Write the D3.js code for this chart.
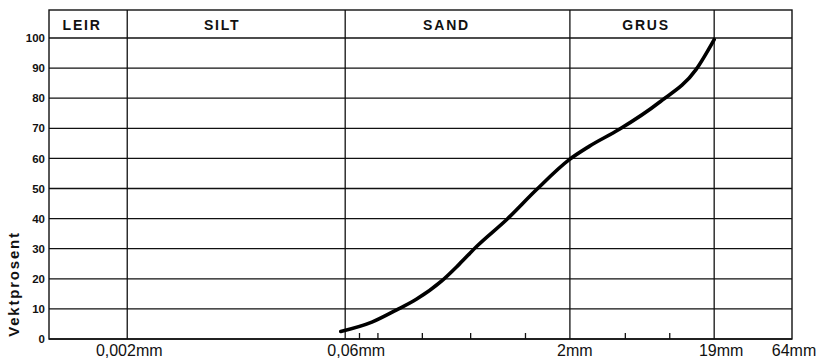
<!DOCTYPE html>
<html>
<head>
<meta charset="utf-8">
<script src="https://cdn.jsdelivr.net/npm/d3@7"></script>
<style>
  body { margin: 0; background: #fff; }
  svg { display: block; font-family: "Liberation Sans", Arial, sans-serif; }
</style>
</head>
<body>
<div id="chart"></div>
<script>
// grain size classes (header row) and their limits in mm
const bandNames = ["LEIR", "SILT", "SAND", "GRUS"];
const bandLimits = [0.00059, 0.002, 0.06, 2, 19];

// main size lines + labels along the bottom
const sizeLines = [0.002, 0.06, 2, 19];
const sizeTicks = [0.002, 0.06, 2, 19, 64];
const sizeTickLabels = ["0,002mm", "0,06mm", "2mm", "19mm", "64mm"];

// small sieve marks on the bottom axis
const sieveTicks = [0.075, 0.1, 0.2, 0.425, 1, 4.75, 9.5];

// percent grid
const pctTicks = [0, 10, 20, 30, 40, 50, 60, 70, 80, 90, 100];

// grading curve
const grainSize = [0.056, 0.091, 0.133, 0.182, 0.272, 0.355, 0.47, 0.75, 1.18, 1.98, 2.7, 4.3, 8.0, 14.3, 19];
const passing = [2.5, 5.6, 9.6, 13.2, 19.4, 24.8, 30.9, 39.8, 49.5, 59.6, 64, 69.6, 78.5, 89.5, 99.5];

const width = 818, height = 360;
const plotLeft = 49, plotRight = 792, plotTop = 10;

const svg = d3.select("#chart").append("svg")
    .attr("width", width)
    .attr("height", height);

const x = d3.scaleLog().domain([0.00059, 64]).range([plotLeft, plotRight]);
const y = d3.scaleLinear().domain([0, 100]).range([339, 38]);

const ink = "#111";

// horizontal grid lines
svg.append("g")
    .selectAll("line")
    .data(pctTicks)
    .join("line")
    .attr("x1", plotLeft).attr("x2", plotRight)
    .attr("y1", d => y(d)).attr("y2", d => y(d))
    .attr("stroke", ink)
    .attr("stroke-width", 1.3);

// frame
svg.append("rect")
    .attr("x", plotLeft).attr("y", plotTop)
    .attr("width", plotRight - plotLeft).attr("height", y(0) - plotTop)
    .attr("fill", "none")
    .attr("stroke", ink)
    .attr("stroke-width", 1.4);

// vertical class limits
svg.append("g")
    .selectAll("line")
    .data(sizeLines)
    .join("line")
    .attr("x1", d => x(d)).attr("x2", d => x(d))
    .attr("y1", plotTop).attr("y2", y(0))
    .attr("stroke", ink)
    .attr("stroke-width", 1.3);

// sieve ticks pointing up from the base line
svg.append("g")
    .selectAll("line")
    .data(sieveTicks)
    .join("line")
    .attr("x1", d => x(d)).attr("x2", d => x(d))
    .attr("y1", y(0)).attr("y2", y(0) - 6)
    .attr("stroke", ink)
    .attr("stroke-width", 1.3);

// header labels (offsets to match the hand lettering)
const headerShift = [-6, -14, -11, 4];
svg.append("g")
    .selectAll("text")
    .data(bandNames)
    .join("text")
    .attr("x", (d, i) => (x(bandLimits[i]) + x(bandLimits[i + 1])) / 2 + headerShift[i])
    .attr("y", 30)
    .attr("text-anchor", "middle")
    .attr("font-size", 14)
    .attr("font-weight", "bold")
    .attr("letter-spacing", 1.8)
    .attr("fill", ink)
    .text(d => d);

// y axis numbers
const yAxis = d3.axisLeft(y).tickValues(pctTicks).tickSize(0).tickPadding(4);
const gy = svg.append("g")
    .attr("transform", `translate(${plotLeft},0)`)
    .call(yAxis);
gy.select(".domain").remove();
gy.selectAll("text")
    .attr("font-size", 11.5)
    .attr("font-weight", "bold")
    .attr("font-family", "Liberation Sans, Arial, sans-serif")
    .attr("fill", ink);

// bottom size labels
const labelShift = [2, 11, 5, 7, 2];
svg.append("g")
    .selectAll("text")
    .data(sizeTicks)
    .join("text")
    .attr("x", (d, i) => x(d) + labelShift[i])
    .attr("y", 356)
    .attr("text-anchor", "middle")
    .attr("font-size", 16)
    .attr("fill", ink)
    .text((d, i) => sizeTickLabels[i]);

// y title
svg.append("text")
    .attr("transform", "translate(19,284) rotate(-90)")
    .attr("text-anchor", "middle")
    .attr("font-size", 15)
    .attr("font-weight", "bold")
    .attr("letter-spacing", 1.8)
    .attr("fill", ink)
    .text("Vektprosent");

// grading curve
const curve = d3.line()
    .x((d, i) => x(grainSize[i]))
    .y(d => y(d))
    .curve(d3.curveMonotoneX);

svg.append("path")
    .datum(passing)
    .attr("d", curve)
    .attr("fill", "none")
    .attr("stroke", "#000")
    .attr("stroke-width", 3.6)
    .attr("stroke-linecap", "round")
    .attr("stroke-linejoin", "round");
</script>
</body>
</html>
